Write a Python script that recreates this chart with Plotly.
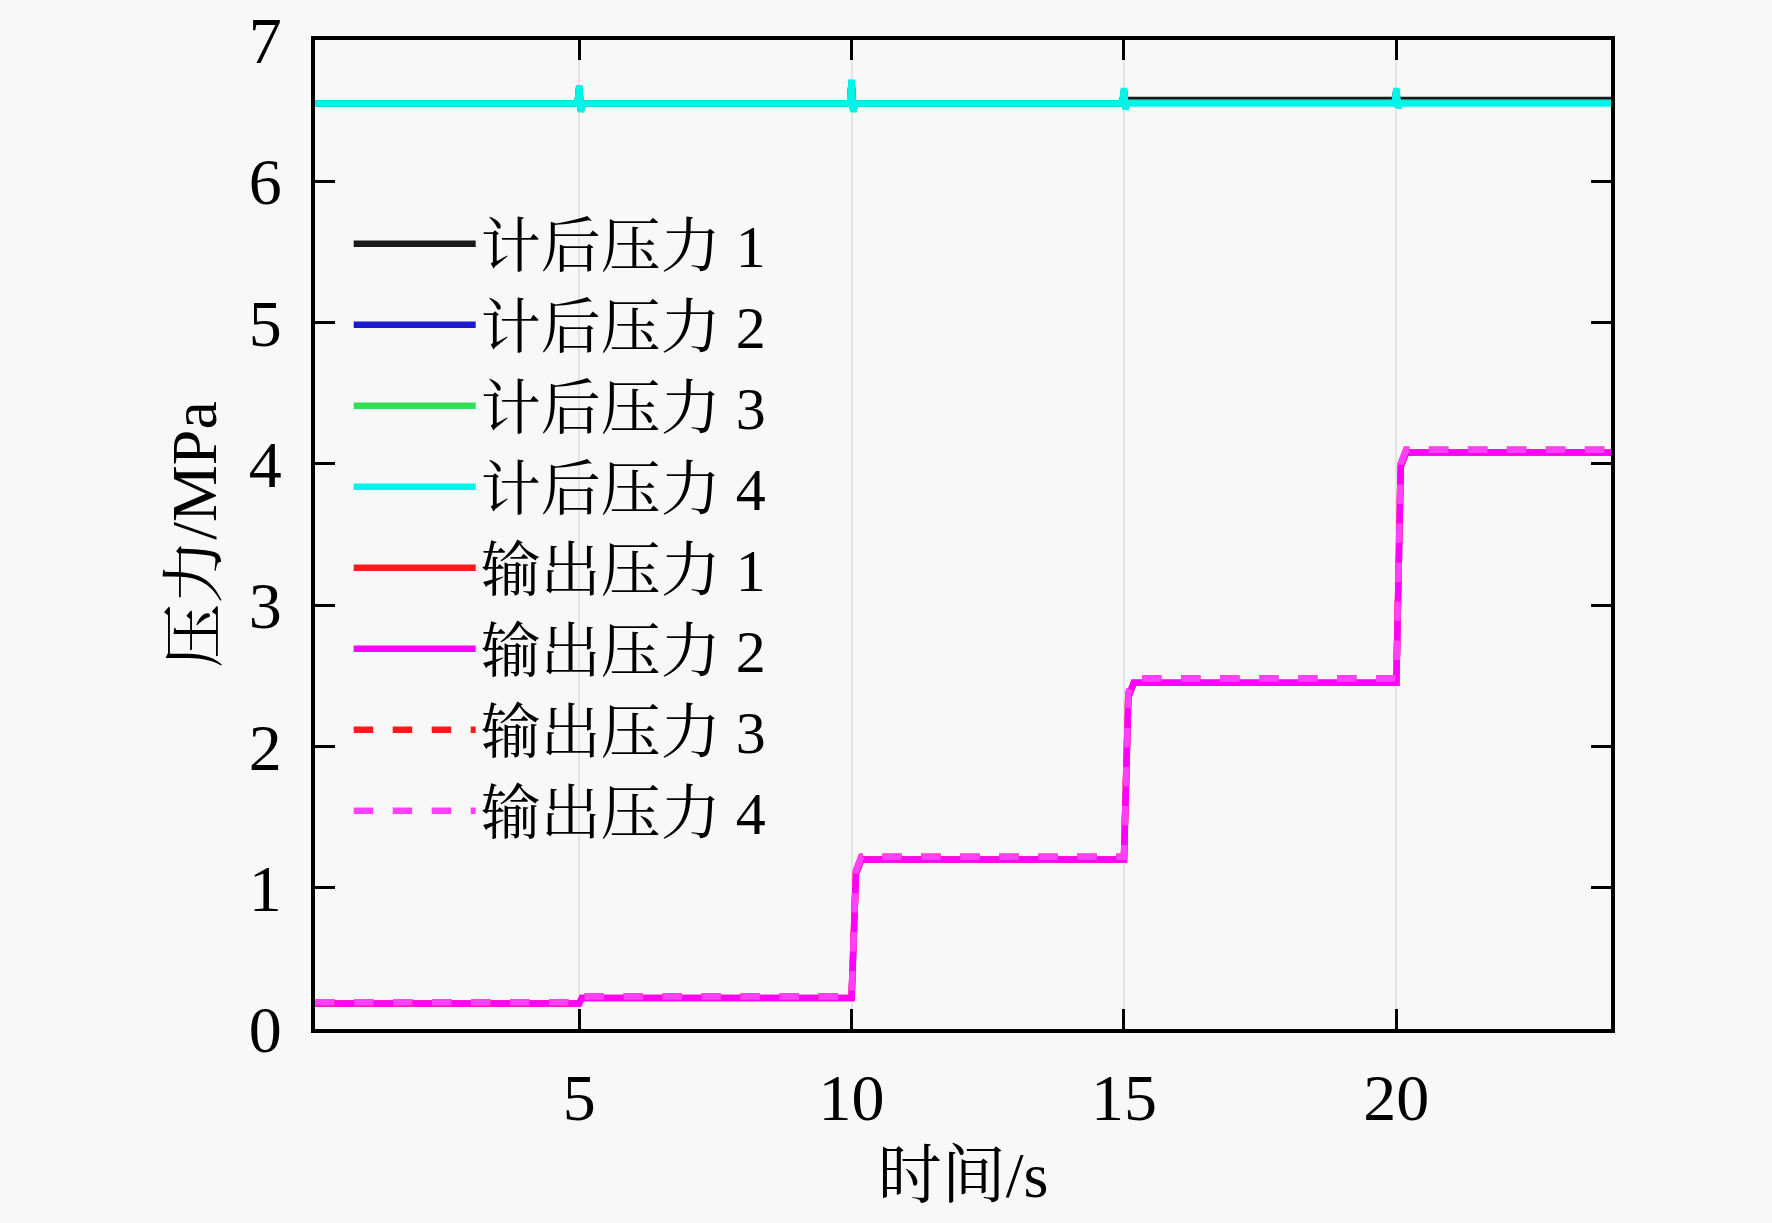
import plotly.graph_objects as go

# tiempos y valores
t_sup = [0.15, 4.97, 5.0, 5.03, 5.07, 9.97, 10.0, 10.03, 10.07,
         14.97, 15.0, 15.03, 15.07, 19.97, 20.0, 20.03, 20.07, 23.94]
sup1 = [6.55, 6.55, 6.66, 6.50, 6.55, 6.55, 6.70, 6.50, 6.55,
        6.55, 6.64, 6.52, 6.575, 6.575, 6.64, 6.53, 6.575, 6.575]
sup2 = [6.55, 6.55, 6.67, 6.50, 6.55, 6.55, 6.71, 6.50, 6.55,
        6.55, 6.64, 6.52, 6.56, 6.56, 6.64, 6.53, 6.56, 6.56]
sup3 = [6.55, 6.55, 6.67, 6.50, 6.55, 6.55, 6.70, 6.50, 6.55,
        6.55, 6.65, 6.51, 6.555, 6.555, 6.65, 6.52, 6.555, 6.555]
sup4 = [6.55, 6.55, 6.68, 6.49, 6.55, 6.55, 6.72, 6.49, 6.55,
        6.55, 6.66, 6.51, 6.55, 6.55, 6.66, 6.52, 6.55, 6.55]

t_out = [0.15, 5.0, 5.05, 10.0, 10.08, 10.18, 15.0, 15.08, 15.18,
         20.0, 20.08, 20.18, 23.94]
out1 = [0.18, 0.18, 0.22, 0.22, 1.10, 1.20, 1.20, 2.35, 2.45,
        2.45, 3.98, 4.08, 4.08]
out2 = [0.18, 0.18, 0.22, 0.22, 1.10, 1.20, 1.20, 2.35, 2.45,
        2.45, 3.98, 4.08, 4.08]
out3 = [0.19, 0.19, 0.23, 0.23, 1.12, 1.22, 1.22, 2.38, 2.48,
        2.48, 4.00, 4.10, 4.10]
out4 = [0.19, 0.19, 0.23, 0.23, 1.12, 1.22, 1.22, 2.38, 2.48,
        2.48, 4.00, 4.10, 4.10]

names = ["计后压力 1", "计后压力 2", "计后压力 3", "计后压力 4",
         "输出压力 1", "输出压力 2", "输出压力 3", "输出压力 4"]
colors = ["#1a1a1a", "#1a1ad0", "#33dd55", "#00f5e8",
          "#ff1a1a", "#ff00ff", "#ff1a1a", "#ff40ff"]
dashes = ["solid"] * 6 + ["dash", "dash"]

x_ticks = [5, 10, 15, 20]
y_ticks = [0, 1, 2, 3, 4, 5, 6, 7]

series = [(t_sup, sup1), (t_sup, sup2), (t_sup, sup3), (t_sup, sup4),
          (t_out, out1), (t_out, out2), (t_out, out3), (t_out, out4)]

fuente = "Liberation Serif, Times New Roman, Noto Serif CJK SC, Noto Sans CJK SC, serif"
fondo = "#f8f8f8"

fig = go.Figure()
for (t, v), n, c, d in zip(series, names, colors, dashes):
    fig.add_trace(go.Scatter(
        x=t, y=v, mode="lines", name=n,
        line=dict(color=c, width=6.5, dash=d)
    ))

fig.update_layout(
    width=1772, height=1223,
    margin=dict(l=315, r=161, t=40, b=194),
    paper_bgcolor=fondo,
    plot_bgcolor=fondo,
    font=dict(family=fuente, size=66, color="black"),
    showlegend=True,
    legend=dict(
        x=0.026, y=0.84, xanchor="left", yanchor="top",
        bgcolor="rgba(0,0,0,0)",
        font=dict(family=fuente, size=60, color="black"),
        itemwidth=122, tracegroupgap=0,
    ),
)

fig.update_xaxes(
    range=[0.15, 23.94],
    tickvals=x_ticks,
    ticks="inside", ticklen=20, tickwidth=3, tickcolor="black",
    showline=True, linecolor="black", linewidth=4, mirror="ticks",
    showgrid=True, gridcolor="#e4e4e4", gridwidth=2,
    zeroline=False, automargin=False,
    ticklabelstandoff=8,
    title=dict(text="时间/s", font=dict(family=fuente, size=64), standoff=20),
)
fig.update_yaxes(
    range=[0, 7], tickvals=y_ticks,
    ticks="inside", ticklen=20, tickwidth=3, tickcolor="black",
    showline=True, linecolor="black", linewidth=4, mirror="ticks",
    showgrid=False,
    zeroline=False, automargin=False,
    ticklabeloverflow="allow",
    ticklabelstandoff=16,
    title=dict(text="压力/MPa", font=dict(family=fuente, size=64), standoff=12),
)

# quitar el margen blanco de la página
fig.write_html(
    "out.html",
    config={"displayModeBar": False},
    post_script="document.body.style.margin='0';document.body.style.background='%s';" % fondo,
)
